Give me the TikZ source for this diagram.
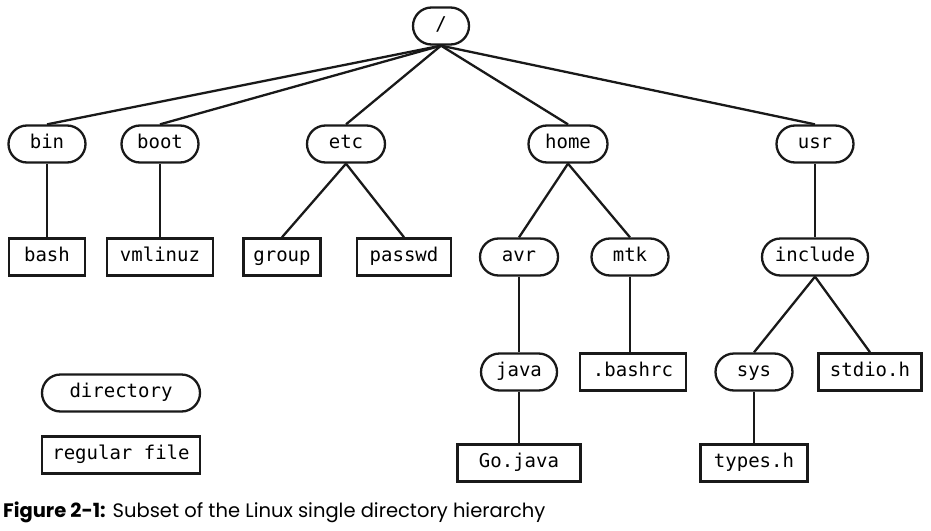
\documentclass[tikz,border=0pt]{standalone}
\usepackage{fontspec}
\setmonofont{DejaVu Sans Mono}
\newfontfamily\capfont{Poppins}
\begin{document}
\begin{tikzpicture}[x=1pt,y=-1pt,
  every node/.style={font=\ttfamily\fontsize{19}{22}\selectfont, inner sep=0pt, text height=13pt, text depth=4pt, minimum height=37pt, line width=2.3pt, draw=black!90},
  dirnode/.style={rectangle, rounded corners=18.5pt},
  filenode/.style={rectangle, line width=2.5pt},
  conn/.style={line width=2.3pt, draw=black!90}]
\useasboundingbox (0,0) rectangle (931,530);
% directories
\node[dirnode, minimum width=56pt] (root) at (441,26) {/};
\node[dirnode, minimum width=77pt] (bin) at (47,144) {bin};
\node[dirnode, minimum width=77pt] (boot) at (160,144) {boot};
\node[dirnode, minimum width=78pt] (etc) at (346,144) {etc};
\node[dirnode, minimum width=79pt] (home) at (568,144) {home};
\node[dirnode, minimum width=77pt] (usr) at (815,144) {usr};
\node[dirnode, minimum width=78pt] (avr) at (519,257) {avr};
\node[dirnode, minimum width=77pt] (mtk) at (630,257) {mtk};
\node[dirnode, minimum width=106pt] (include) at (815,257) {include};
\node[dirnode, minimum width=76pt] (java) at (519,372) {java};
\node[dirnode, minimum width=77pt] (sys) at (754,372) {sys};
% files
\node[filenode, minimum width=76pt] (bash) at (47,257) {bash};
\node[filenode, minimum width=106pt] (vmlinuz) at (160,257) {vmlinuz};
\node[filenode, minimum width=77pt] (group) at (282,257) {group};
\node[filenode, minimum width=94pt] (passwd) at (404,257) {passwd};
\node[filenode, minimum width=106pt] (bashrc) at (633,372) {.bashrc};
\node[filenode, minimum width=103pt] (stdio) at (870,372) {stdio.h};
\node[filenode, minimum width=123pt] (gojava) at (519,463) {Go.java};
\node[filenode, minimum width=107pt] (types) at (754,463) {types.h};
% legend
\node[dirnode, minimum width=158pt] (legdir) at (121,393) {directory};
\node[filenode, minimum width=158pt] (legfile) at (121,455) {regular file};
% connectors
\foreach \c in {bin,boot,etc,home,usr} \draw[conn] (root.south) -- (\c.north);
\draw[conn] (bin) -- (bash);
\draw[conn] (boot) -- (vmlinuz);
\draw[conn] (etc.south) -- (group.north);
\draw[conn] (etc.south) -- (passwd.north);
\draw[conn] (home.south) -- (avr.north);
\draw[conn] (home.south) -- (mtk.north);
\draw[conn] (usr) -- (include);
\draw[conn] (include.south) -- (sys.north);
\draw[conn] (include.south) -- (stdio.north);
\draw[conn] (avr) -- (java);
\draw[conn] (mtk.south) -- (bashrc.north -| mtk.south);
\draw[conn] (java) -- (gojava);
\draw[conn] (sys) -- (types);
% caption
\node[draw=none, minimum height=0pt, text height=, text depth=, anchor=base west, font=\capfont\fontsize{19.5}{22}\selectfont] (cap) at (2,517) {\textbf{Figure 2-1:} Subset of the Linux single directory hierarchy};
\end{tikzpicture}
\end{document}
